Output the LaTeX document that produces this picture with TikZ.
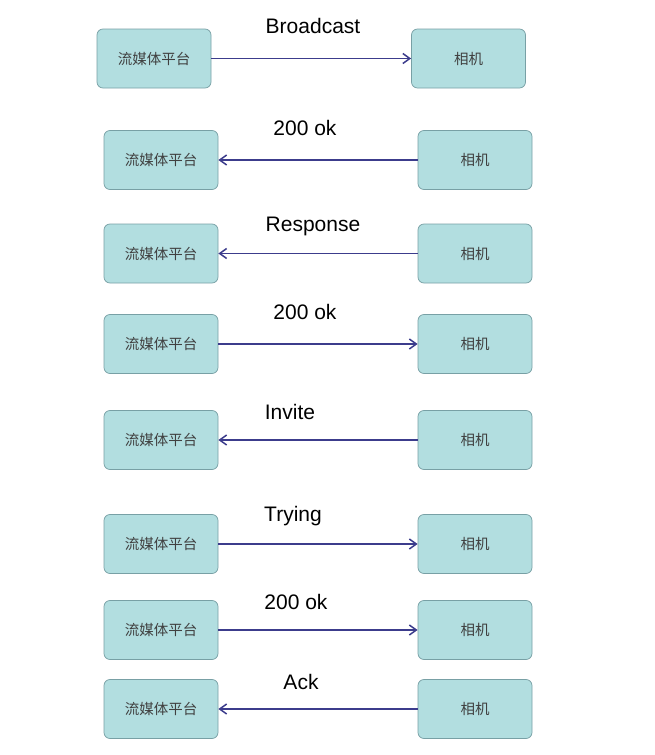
\documentclass[tikz,border=0pt]{standalone}
\usepackage{fontspec}
\setmainfont{Liberation Sans}
\newfontfamily\cjk{Noto Sans CJK SC}
\usetikzlibrary{arrows.meta}
\definecolor{boxfill}{RGB}{178,222,224}
\definecolor{boxline}{RGB}{120,160,165}
\definecolor{msgline}{RGB}{60,60,140}
\tikzset{every picture/.style={line width=0.75pt},
  peer/.style={draw=boxline,fill=boxfill,rounded corners=6pt,minimum width=114pt,minimum height=59pt,inner sep=0pt,font=\cjk\fontsize{14.5}{16}\selectfont,text=black!75},
  msg/.style={draw=msgline,line width=1.5pt,-{Straight Barb[length=7pt,width=10pt]}},
  msglabel/.style={font=\fontsize{21}{24}\selectfont,anchor=center}}

\begin{document}
\begin{tikzpicture}[x=1pt,y=1pt,yscale=-1]
\useasboundingbox (0,0) rectangle (655,755);

%Row 1
\node [peer] (p1) at (154,58.5) {流媒体平台};
\node [peer] (c1) at (468.5,58.5) {相机};
\draw [msg] (p1) -- (c1);
\node [msglabel] (m1) at (313,26) {Broadcast};

%Row 2
\node [peer] (p2) at (161,160) {流媒体平台};
\node [peer] (c2) at (475,160) {相机};
\draw [msg] (c2) -- (p2);
\node [msglabel] (m2) at (305,128) {200 ok};

%Row 3
\node [peer] (p3) at (161,253.5) {流媒体平台};
\node [peer] (c3) at (475,253.5) {相机};
\draw [msg] (c3) -- (p3);
\node [msglabel] (m3) at (313,226) {Response};

%Row 4
\node [peer] (p4) at (161,344) {流媒体平台};
\node [peer] (c4) at (475,344) {相机};
\draw [msg] (p4) -- (c4);
\node [msglabel] (m4) at (305,312) {200 ok};

%Row 5
\node [peer] (p5) at (161,440) {流媒体平台};
\node [peer] (c5) at (475,440) {相机};
\draw [msg] (c5) -- (p5);
\node [msglabel] (m5) at (290,412) {Invite};

%Row 6
\node [peer] (p6) at (161,544) {流媒体平台};
\node [peer] (c6) at (475,544) {相机};
\draw [msg] (p6) -- (c6);
\node [msglabel] (m6) at (293,516) {Trying};

%Row 7
\node [peer] (p7) at (161,630) {流媒体平台};
\node [peer] (c7) at (475,630) {相机};
\draw [msg] (p7) -- (c7);
\node [msglabel] (m7) at (296,602) {200 ok};

%Row 8
\node [peer] (p8) at (161,709) {流媒体平台};
\node [peer] (c8) at (475,709) {相机};
\draw [msg] (c8) -- (p8);
\node [msglabel] (m8) at (301,682) {Ack};

\end{tikzpicture}
\end{document}
